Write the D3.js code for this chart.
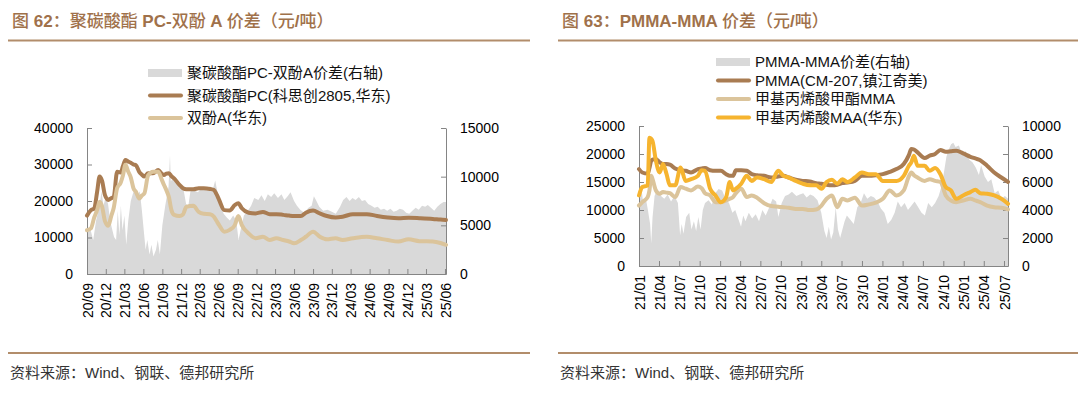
<!DOCTYPE html>
<html>
<head>
<meta charset="utf-8">
<script src="https://cdn.jsdelivr.net/npm/d3@7"></script>
<style>
  body { margin: 0; background: #fff; }
  svg text { font-family: "Liberation Sans", Arial, "Noto Sans CJK SC", sans-serif; }
</style>
</head>
<body>
<svg id="chart" width="1080" height="393"></svg>
<script>
// ---- 图62 data: PC / BPA (left axis), spread (right axis) ----
const pcDates = ["2020-09-01","2020-09-20","2020-10-06","2020-10-20","2020-11-01","2020-11-13","2020-11-27","2020-12-13","2020-12-28","2021-01-08",
  "2021-01-25","2021-02-11","2021-02-22","2021-03-06","2021-03-20","2021-04-01","2021-04-14","2021-04-26","2021-05-12","2021-05-25",
  "2021-06-06","2021-06-24","2021-07-18","2021-08-12","2021-08-28","2021-09-09","2021-09-20","2021-10-03","2021-10-15","2021-10-28",
  "2021-11-23","2021-12-10","2021-12-26","2022-01-29","2022-02-24","2022-03-20","2022-04-20","2022-05-09","2022-05-22","2022-06-03",
  "2022-06-28","2022-07-24","2022-08-18","2022-09-04","2022-09-21","2022-10-24","2022-11-27","2023-01-01","2023-02-03","2023-03-07",
  "2023-04-10","2023-05-08","2023-06-01","2023-07-04","2023-07-28","2023-09-01","2023-10-04","2023-11-07","2023-12-19","2024-01-22",
  "2024-03-12","2024-05-18","2024-07-07","2024-08-28","2024-10-18","2024-12-07","2025-01-28","2025-04-03","2025-05-10","2025-06-06"];
const pcPrice = [16000,17500,18000,22500,26700,25500,21600,20300,20800,21000,
  28000,27800,29500,31200,30800,30500,30000,29800,28000,27200,
  26700,27600,27600,28500,27500,27100,27500,27600,26800,26200,
  24400,23500,23200,23200,23500,23500,23300,23000,21800,20300,
  17500,17400,18900,19400,18000,16800,16600,17000,16400,16400,
  16200,16000,15900,15900,16800,17400,16600,15900,15500,15700,
  16400,16400,15900,15500,15300,15400,15300,15100,14900,14800];
const bpaPrice = [12000,12500,15500,17500,19800,18500,14500,13200,16000,18000,
  23500,25000,27000,29900,28000,26500,23500,22500,20700,21500,
  22100,27000,28000,28000,26000,24400,23000,21000,17500,16200,
  15900,16300,18400,18700,17000,16500,16400,15700,14500,13400,
  11600,12100,13400,15900,13400,11100,9800,10200,9300,9800,
  9300,8900,8400,9300,10200,11600,10200,9500,9800,9300,
  9800,10200,9800,9300,8900,9500,9000,8900,8500,8000];
const pcSpreadDates = ["2020-09-01","2020-09-15","2020-10-01","2020-10-15","2020-11-01","2020-11-10","2020-11-20","2020-12-01","2020-12-12","2020-12-22",
  "2021-01-02","2021-01-10","2021-01-20","2021-01-28","2021-02-05","2021-02-12","2021-02-20","2021-03-01","2021-03-10","2021-03-20",
  "2021-04-01","2021-04-15","2021-05-01","2021-05-15","2021-05-25","2021-06-05","2021-06-12","2021-06-20","2021-07-01","2021-07-10",
  "2021-07-20","2021-08-01","2021-08-10","2021-08-20","2021-09-01","2021-09-15","2021-10-01","2021-10-08","2021-10-12","2021-10-25",
  "2021-11-10","2021-11-25","2021-12-10","2021-12-25","2022-01-05","2022-01-15","2022-02-01","2022-02-20","2022-03-10","2022-04-01",
  "2022-04-20","2022-05-05","2022-05-15","2022-05-25","2022-06-10","2022-06-25","2022-07-10","2022-07-25","2022-08-10","2022-08-25",
  "2022-09-05","2022-09-15","2022-10-01","2022-10-20","2022-11-05","2022-11-20","2022-12-10","2022-12-25","2023-01-10","2023-01-25",
  "2023-02-10","2023-02-25","2023-03-15","2023-04-01","2023-04-15","2023-05-01","2023-05-15","2023-06-01","2023-06-15","2023-07-01",
  "2023-07-20","2023-08-10","2023-08-25","2023-09-05","2023-09-15","2023-10-01","2023-10-20","2023-11-10","2023-12-01","2023-12-20",
  "2024-01-10","2024-01-25","2024-02-10","2024-02-25","2024-03-10","2024-03-25","2024-04-10","2024-04-25","2024-05-10","2024-05-25",
  "2024-06-10","2024-06-25","2024-07-10","2024-07-25","2024-08-10","2024-08-25","2024-09-10","2024-09-25","2024-10-10","2024-10-25",
  "2024-11-10","2024-11-25","2024-12-10","2024-12-25","2025-01-10","2025-01-25","2025-02-10","2025-02-25","2025-03-10","2025-03-25",
  "2025-04-10","2025-04-25","2025-05-10","2025-05-25","2025-06-06"];
const pcSpread = [4000,4800,3500,5500,7000,8500,7000,8000,7200,5500,
  4500,3800,3500,6500,4000,7000,4500,6000,3000,5500,
  7500,8500,8000,8500,6500,4000,2500,3500,2000,3000,
  1800,2500,3500,2000,5000,7000,9000,12200,9500,10000,
  9500,8800,9000,7200,7000,8500,8600,8400,8800,8600,
  9000,8800,9600,8500,7000,6200,5800,5500,6000,5500,
  3500,4500,6000,6500,7000,7800,7600,8100,7500,8200,
  7900,8300,7800,8200,7600,8000,8400,7500,7000,6600,
  6300,6800,7000,8000,7600,6900,6500,6600,6400,6200,
  6900,7600,7900,7500,7800,7600,7900,7500,7600,7200,
  7000,6800,6900,6600,6700,6500,6700,6400,6500,6700,
  6600,6300,6200,6500,6800,6600,7000,6900,7100,6800,
  6500,6900,7200,7400,7400];
const pcTickLabels = ["20/09","20/12","21/03","21/06","21/09","21/12","22/03","22/06","22/09","22/12",
  "23/03","23/06","23/09","23/12","24/03","24/06","24/09","24/12","25/03","25/06"];
const pcLeftTicks = [0, 10000, 20000, 30000, 40000];
const pcRightTicks = [0, 5000, 10000, 15000];

// ---- 图63 data: PMMA / MMA / MAA (left axis), spread (right axis) ----
const pmDates = ["2021-01-01","2021-01-16","2021-02-09","2021-02-17","2021-02-25","2021-03-03","2021-03-18","2021-04-04","2021-04-19","2021-05-05",
  "2021-05-20","2021-06-13","2021-07-07","2021-07-30","2021-08-23","2021-09-23","2021-10-10","2021-10-25","2021-11-17","2021-12-11",
  "2022-01-04","2022-01-28","2022-02-13","2022-02-28","2022-03-13","2022-04-06","2022-05-01","2022-05-23","2022-06-16","2022-07-18",
  "2022-08-19","2022-09-19","2022-10-13","2022-11-06","2022-12-07","2023-01-07","2023-02-08","2023-03-09","2023-04-02","2023-04-25",
  "2023-05-19","2023-06-12","2023-07-05","2023-07-28","2023-08-30","2023-10-01","2023-11-01","2023-12-02","2024-01-03","2024-02-03",
  "2024-03-04","2024-04-06","2024-04-29","2024-05-10","2024-05-22","2024-06-07","2024-07-09","2024-08-01","2024-08-25","2024-09-18",
  "2024-10-12","2024-11-04","2024-11-28","2024-12-29","2025-01-31","2025-02-22","2025-03-16","2025-04-16","2025-05-18","2025-06-19",
  "2025-07-19"];
const pmmaPrice = [17300,16700,16500,17500,18800,19000,19100,18500,18200,18200,
  18100,17400,17100,17000,16700,17300,17400,17500,17100,17000,
  17000,16400,16100,16100,17100,17100,17000,16400,16200,16100,
  15800,16000,16100,15800,15400,15200,15100,14800,14700,14500,
  14400,14500,14800,14900,15200,16100,16100,16200,16400,16800,
  17300,18200,19800,20900,20800,20300,19300,19700,20000,20700,
  20400,20500,20600,20100,19500,19200,18900,17900,16700,15800,
  15000];
const mmaPrice = [10800,11400,12300,13500,16100,15500,13500,12900,13200,13100,
  13000,12300,14100,13800,13500,14200,13900,13000,12600,11400,
  11400,11700,12000,12300,13000,13800,12300,12600,12200,11200,
  10700,10600,10500,10400,10200,10200,10000,10100,10800,12000,
  12600,10500,12000,11700,12200,10800,11000,11300,12000,13500,
  12600,13500,16000,16700,16200,15800,15200,15500,15200,15000,
  12600,11700,11400,11700,12000,11700,11400,10800,10500,10400,
  10100];
const maaPrice = [12600,14100,14400,22900,22700,22300,18800,16700,18200,16400,
  14400,14400,17600,15200,15500,16100,17100,17000,13800,12600,
  11400,12300,15000,13500,13800,14700,16100,15200,15800,15500,
  15000,17000,16100,15800,15200,14700,14400,14400,13800,15000,
  15400,14700,15500,15000,15800,16700,16400,16400,15200,15200,
  15200,16100,17900,18500,19700,17900,17900,17000,17500,16400,
  14100,13500,12000,12600,13200,13600,13000,12900,12600,12000,
  11100];
const pmSpreadDates = ["2021-01-01","2021-01-10","2021-01-20","2021-02-01","2021-02-10","2021-02-20","2021-02-25","2021-03-03","2021-03-12","2021-03-25",
  "2021-04-10","2021-04-25","2021-05-10","2021-05-25","2021-06-10","2021-06-25","2021-07-05","2021-07-12","2021-07-20","2021-08-01",
  "2021-08-15","2021-08-25","2021-09-05","2021-09-15","2021-09-25","2021-10-05","2021-10-15","2021-10-25","2021-11-10","2021-11-25",
  "2021-12-10","2021-12-25","2022-01-10","2022-01-25","2022-02-10","2022-02-25","2022-03-10","2022-03-25","2022-04-05","2022-04-15",
  "2022-04-25","2022-05-10","2022-05-25","2022-06-10","2022-06-25","2022-07-10","2022-07-25","2022-08-10","2022-08-25","2022-09-10",
  "2022-09-20","2022-10-05","2022-10-20","2022-11-05","2022-11-20","2022-12-10","2022-12-25","2023-01-10","2023-01-25","2023-02-10",
  "2023-02-25","2023-03-15","2023-04-01","2023-04-15","2023-04-25","2023-05-05","2023-05-15","2023-05-25","2023-06-05","2023-06-15",
  "2023-06-25","2023-07-05","2023-07-15","2023-07-25","2023-08-10","2023-08-25","2023-09-10","2023-09-25","2023-10-10","2023-10-25",
  "2023-11-10","2023-11-25","2023-12-10","2023-12-25","2024-01-10","2024-01-25","2024-02-10","2024-02-25","2024-03-10","2024-03-25",
  "2024-04-10","2024-04-25","2024-05-10","2024-05-25","2024-06-10","2024-06-25","2024-07-10","2024-07-25","2024-08-10","2024-08-25",
  "2024-09-10","2024-09-25","2024-10-05","2024-10-15","2024-10-25","2024-11-05","2024-11-15","2024-11-25","2024-12-10","2024-12-25",
  "2025-01-10","2025-01-25","2025-02-10","2025-02-25","2025-03-10","2025-03-20","2025-04-05","2025-04-20","2025-05-05","2025-05-20",
  "2025-06-05","2025-06-20","2025-07-05","2025-07-19"];
const pmSpread = [5000,5800,4500,4800,4000,3000,1600,3500,5000,5500,
  5000,4800,5100,4600,5000,4500,2200,3000,2300,3500,
  3800,2600,3200,2500,3500,2600,4000,4500,4700,4400,
  5200,5500,5400,4800,4500,3800,4000,3300,2800,3600,
  3200,3800,3400,3700,3200,4000,3600,4200,4800,4600,
  3500,4500,5000,5100,5300,5000,5100,5200,4900,5100,
  5000,4700,3800,2500,2000,2800,1900,2400,4200,2600,
  2000,2600,3200,3600,3300,3000,4200,4500,5200,4800,
  5000,4900,4600,4100,3800,3000,3300,3800,4600,4200,
  4500,4000,4300,4600,4200,3800,3600,4500,4200,4500,
  5000,5800,6800,7800,8300,8700,8800,8500,8600,8000,
  8200,7600,7400,7000,6500,7200,6400,6000,6200,5200,
  5400,4800,5000,4800];
const pmTickLabels = ["21/01","21/04","21/07","21/10","22/01","22/04","22/07","22/10","23/01","23/04",
  "23/07","23/10","24/01","24/04","24/07","24/10","25/01","25/04","25/07"];
const pmLeftTicks = [0, 5000, 10000, 15000, 20000, 25000];
const pmRightTicks = [0, 2000, 4000, 6000, 8000, 10000];

const BROWN = "#a97c52", TAN = "#dbc49b", ORANGE = "#f6b42f", GREY = "#d9d9d9";
const RULE = "#b28d6b", TITLE = "#a0714a", AXIS = "#858585";

const svg = d3.select("#chart");
const parseDay = d3.timeParse("%Y-%m-%d");
const parseTick = d3.timeParse("%y/%m");
const cjk = /[\u3000-\u9fff\uff00-\uffef]/;

// split text into latin / CJK runs so each gets its own weight
function addRuns(text, str, latinWeight, cjkWeight) {
  str.match(/[\u3000-\u9fff\uff00-\uffef]+|[^\u3000-\u9fff\uff00-\uffef]+/g).forEach(part => {
    text.append("tspan").text(part).attr("font-weight", cjk.test(part) ? cjkWeight : latinWeight);
  });
}

function drawPanel(p) {
  const g = svg.append("g");

  // header + footer
  const title = g.append("text").attr("x", p.titleX).attr("y", 27).attr("font-size", 17).attr("fill", TITLE);
  addRuns(title, p.title, 700, 500);
  g.append("line").attr("x1", p.ruleX[0]).attr("x2", p.ruleX[1]).attr("y1", 40.5).attr("y2", 40.5)
    .attr("stroke", RULE).attr("stroke-width", 2);
  g.append("line").attr("x1", p.ruleX[0]).attr("x2", p.ruleX[1]).attr("y1", 353).attr("y2", 353)
    .attr("stroke", RULE).attr("stroke-width", 2);
  const src = g.append("text").attr("x", p.titleX - 2).attr("y", 378).attr("font-size", 15).attr("fill", "#333");
  addRuns(src, "资料来源：Wind、钢联、德邦研究所", 400, 400);

  const x = d3.scaleTime().domain(p.domain.map(parseDay)).range([p.left, p.right]);
  const yL = d3.scaleLinear().domain([0, d3.max(p.leftTicks)]).range([p.bottom, p.top]);
  const yR = d3.scaleLinear().domain([0, d3.max(p.rightTicks)]).range([p.bottom, p.top]);

  // spread area (right axis)
  const spread = p.spreadDates.map((d, i) => ({ d: parseDay(d), v: p.spread[i] }));
  g.append("path").datum(spread)
    .attr("fill", GREY)
    .attr("d", d3.area().x(d => x(d.d)).y0(p.bottom).y1(d => yR(d.v)));

  // axes
  const styleAxis = sel => {
    sel.selectAll("path, line").attr("stroke", AXIS);
    sel.selectAll("text").attr("font-size", 14).attr("fill", "#000")
      .attr("font-family", "'Liberation Sans', Arial, sans-serif");
  };
  g.append("g").attr("transform", `translate(${p.left},0)`)
    .call(d3.axisLeft(yL).tickValues(p.leftTicks).tickSize(-5).tickSizeOuter(0).tickPadding(14).tickFormat(d3.format("d")))
    .call(styleAxis);
  g.append("g").attr("transform", `translate(${p.right},0)`)
    .call(d3.axisRight(yR).tickValues(p.rightTicks).tickSize(-5).tickSizeOuter(0).tickPadding(14).tickFormat(d3.format("d")))
    .call(styleAxis);
  const tickDates = p.tickLabels.map(parseTick);
  const xa = g.append("g").attr("transform", `translate(0,${p.bottom})`)
    .call(d3.axisBottom(x).tickValues(tickDates).tickSize(-5).tickSizeOuter(0).tickFormat((d, i) => p.tickLabels[i]))
    .call(styleAxis);
  xa.selectAll(".tick text")
    .attr("transform", "rotate(-90)")
    .attr("text-anchor", "end")
    .attr("x", -9).attr("y", 0).attr("dy", "0.36em");

  // price lines (left axis)
  const line = d3.line().x(d => x(d.d)).y(d => yL(d.v)).curve(d3.curveMonotoneX);
  p.series.forEach(s => {
    const data = p.dates.map((d, i) => ({ d: parseDay(d), v: s.values[i] }));
    g.append("path").datum(data)
      .attr("fill", "none").attr("stroke", s.color).attr("stroke-width", 4)
      .attr("stroke-linejoin", "round").attr("stroke-linecap", "round")
      .attr("d", line);
  });

  // legend
  const lg = g.append("g").attr("transform", `translate(${p.legend.x},${p.legend.y})`);
  p.legend.items.forEach((it, i) => {
    const row = lg.append("g").attr("transform", `translate(0,${i * p.legend.dy})`);
    if (it.area) {
      row.append("rect").attr("x", 0).attr("y", -4).attr("width", 34).attr("height", 8).attr("fill", GREY);
    } else {
      row.append("line").attr("x1", 2).attr("x2", 33).attr("y1", 0).attr("y2", 0)
        .attr("stroke", it.color).attr("stroke-width", 4).attr("stroke-linecap", "round");
    }
    const t = row.append("text").attr("x", 39).attr("y", 0).attr("dy", "0.36em").attr("font-size", 15).attr("fill", "#111");
    addRuns(t, it.label, 400, 400);
  });
}

drawPanel({
  title: "图 62：聚碳酸酯 PC-双酚 A 价差（元/吨）",
  titleX: 12, ruleX: [8, 530],
  left: 87, right: 446, top: 128, bottom: 274,
  domain: ["2020-09-01", "2025-06-06"],
  leftTicks: pcLeftTicks, rightTicks: pcRightTicks, tickLabels: pcTickLabels,
  spreadDates: pcSpreadDates, spread: pcSpread,
  dates: pcDates,
  series: [
    { values: pcPrice, color: BROWN },
    { values: bpaPrice, color: TAN }
  ],
  legend: {
    x: 148, y: 73, dy: 22.5,
    items: [
      { label: "聚碳酸酯PC-双酚A价差(右轴)", area: true },
      { label: "聚碳酸酯PC(科思创2805,华东)", color: BROWN },
      { label: "双酚A(华东)", color: TAN }
    ]
  }
});

drawPanel({
  title: "图 63：PMMA-MMA 价差（元/吨）",
  titleX: 562, ruleX: [558, 1078],
  left: 639, right: 1008, top: 126, bottom: 266,
  domain: ["2021-01-01", "2025-07-19"],
  leftTicks: pmLeftTicks, rightTicks: pmRightTicks, tickLabels: pmTickLabels,
  spreadDates: pmSpreadDates, spread: pmSpread,
  dates: pmDates,
  series: [
    { values: pmmaPrice, color: BROWN },
    { values: mmaPrice, color: TAN },
    { values: maaPrice, color: ORANGE }
  ],
  legend: {
    x: 716, y: 62, dy: 18.5,
    items: [
      { label: "PMMA-MMA价差(右轴)", area: true },
      { label: "PMMA(CM-207,镇江奇美)", color: BROWN },
      { label: "甲基丙烯酸甲酯MMA", color: TAN },
      { label: "甲基丙烯酸MAA(华东)", color: ORANGE }
    ]
  }
});
</script>
</body>
</html>
